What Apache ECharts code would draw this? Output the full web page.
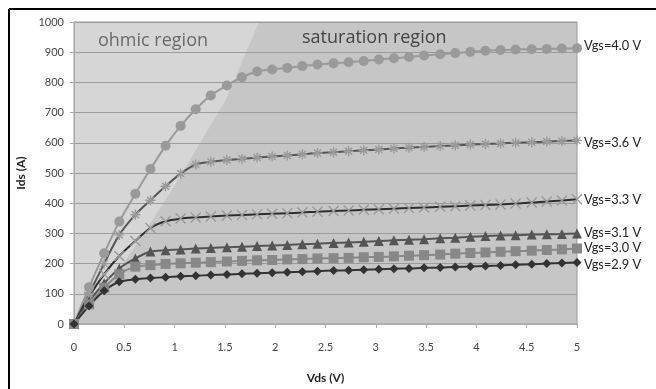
<!DOCTYPE html>
<html>
<head>
<meta charset="utf-8">
<script src="https://cdn.jsdelivr.net/npm/echarts@6/dist/echarts.min.js"></script>
<style>
  html, body { margin: 0; padding: 0; background: #fff; }
  #chart { width: 656px; height: 389px; }
</style>
</head>
<body>
<div id="chart"></div>
<script>
  // Vds sample points (V)
  var vds = [0, 0.15, 0.3, 0.45, 0.61, 0.76, 0.91, 1.06, 1.21, 1.36, 1.52, 1.67, 1.82, 1.97, 2.12, 2.27,
    2.42, 2.58, 2.73, 2.88, 3.03, 3.18, 3.33, 3.48, 3.64, 3.79, 3.94, 4.09, 4.24, 4.39, 4.55, 4.7, 4.85, 5];

  var ids40 = [0, 122, 234, 339, 431, 513, 590, 656, 711, 757, 790, 817, 836, 843, 848, 854,
    859, 863, 867, 871, 876, 880, 884, 889, 893, 897, 901, 905, 907, 909, 910, 911, 912, 913];
  var ids36 = [0, 100, 200, 295, 362, 410, 456, 498, 528, 537, 543, 547, 551, 555, 558, 562,
    566, 569, 572, 575, 578, 581, 584, 586, 589, 591, 594, 596, 598, 600, 602, 604, 606, 608];
  var ids33 = [0, 90, 165, 225, 275, 318, 340, 349, 353, 356, 359, 361, 363, 365, 367, 369,
    372, 374, 376, 378, 380, 382, 384, 386, 388, 390, 392, 394, 396, 399, 402, 406, 409, 413];
  var ids31 = [0, 75, 135, 184, 217, 240, 244, 247, 250, 252, 254, 256, 258, 260, 262, 264,
    266, 268, 270, 272, 275, 277, 279, 281, 284, 286, 289, 291, 293, 294, 296, 297, 298, 300];
  var ids30 = [0, 65, 120, 165, 190, 195, 199, 201, 203, 205, 207, 209, 211, 212, 214, 215,
    217, 218, 219, 221, 222, 224, 226, 228, 230, 233, 235, 237, 239, 241, 243, 245, 247, 250];
  var ids29 = [0, 60, 110, 140, 148, 152, 155, 158, 160, 162, 164, 166, 168, 170, 171, 173,
    175, 177, 178, 180, 181, 183, 184, 186, 187, 189, 190, 192, 194, 196, 198, 200, 202, 204];

  var seriesNames = ['Vgs=4.0 V', 'Vgs=3.6 V', 'Vgs=3.3 V', 'Vgs=3.1 V', 'Vgs=3.0 V', 'Vgs=2.9 V'];
  var xTicks = [0, 0.5, 1, 1.5, 2, 2.5, 3, 3.5, 4, 4.5, 5];

  // edge of the lighter "ohmic" band, in (Vds, Ids)
  var ohmicEdge = [[0, 0], [0.35, 130], [0.68, 293], [0.98, 447], [1.51, 743], [1.84, 1000], [0, 1000]];
  var plotBox = [[0, 0], [5, 0], [5, 1000], [0, 1000]];

  var asterisk = 'path://M0,5L10,5M5,0L5,10M1.5,1.5L8.5,8.5M8.5,1.5L1.5,8.5';
  var cross = 'path://M1,1L9,9M9,1L1,9';

  function pairs(ys) {
    return vds.map(function (x, i) { return [x, ys[i]] })
  }

  function polySeries(points, fill, z) {
    return {
      type: 'custom',
      silent: true,
      z: z,
      data: [0],
      renderItem: function (params, api) {
        return {
          type: 'polygon',
          shape: { points: points.map(function (p) { return api.coord(p) }) },
          style: { fill: fill }
        }
      }
    }
  }

  function curve(name, ys, line, symbol, size, mark, border) {
    return {
      name: name,
      type: 'line',
      z: 3,
      smooth: 0.3,
      data: pairs(ys),
      symbol: symbol,
      symbolSize: size,
      showAllSymbol: true,
      lineStyle: { color: line, width: 2 },
      itemStyle: border
        ? { color: 'none', borderColor: mark, borderWidth: 1.4 }
        : { color: mark, borderWidth: 0 }
    }
  }

  var chart = echarts.init(document.getElementById('chart'));
  var labelFont = 'Lato, "Open Sans", sans-serif';
  var regionFont = '"Open Sans", Lato, sans-serif';

  function vgsLabel(i, top) {
    return { type: 'text', left: 584, top: top, style: { text: seriesNames[i], fontSize: 12.8, fontFamily: labelFont, fill: '#222' } }
  }

  chart.setOption({
    backgroundColor: '#fff',
    animation: false,
    grid: { left: 74, right: 79, top: 22, bottom: 63, show: true, borderColor: '#9a9a9a', borderWidth: 1 },
    xAxis: {
      type: 'value', min: 0, max: 5, interval: 0.5,
      name: 'Vds (V)', nameLocation: 'middle', nameGap: 48,
      nameTextStyle: { fontFamily: labelFont, fontWeight: 'bold', fontSize: 12, color: '#222' },
      axisLine: { show: true, lineStyle: { color: '#aaa' } },
      axisTick: { show: true, length: 4, lineStyle: { color: '#aaa' } },
      axisLabel: {
        color: '#444', fontSize: 11, fontFamily: labelFont, margin: 18,
        formatter: function (v) { return xTicks.indexOf(v) >= 0 ? String(v) : '' }
      },
      splitLine: { show: false }
    },
    yAxis: {
      type: 'value', min: 0, max: 1000, interval: 100,
      name: 'Ids (A)', nameLocation: 'middle', nameGap: 46, nameRotate: 90,
      nameTextStyle: { fontFamily: labelFont, fontWeight: 'bold', fontSize: 12, color: '#222' },
      axisLine: { show: true, lineStyle: { color: '#aaa' } },
      axisTick: { show: true, length: 4, lineStyle: { color: '#aaa' } },
      axisLabel: {
        color: '#444', fontSize: 11, fontFamily: labelFont, margin: 10,
        formatter: function (v) { return String(v) }
      },
      splitLine: { show: true, lineStyle: { color: '#9c9c9c', width: 1 } }
    },
    graphic: [
      { type: 'line', shape: { x1: 9, y1: 9, x2: 656, y2: 9 }, style: { stroke: '#000', lineWidth: 2 } },
      { type: 'line', shape: { x1: 9, y1: 9, x2: 9, y2: 389 }, style: { stroke: '#000', lineWidth: 2 } },
      { type: 'text', left: 98, top: 32, style: { text: 'ohmic region', fontSize: 18, fontFamily: regionFont, fill: '#6a6a6a' } },
      { type: 'text', left: 302, top: 29, style: { text: 'saturation region', fontSize: 18, fontFamily: regionFont, fill: '#444' } },
      vgsLabel(0, 39),
      vgsLabel(1, 136),
      vgsLabel(2, 193),
      vgsLabel(3, 226),
      vgsLabel(4, 241),
      vgsLabel(5, 258)
    ],
    series: [
      polySeries(plotBox, '#c6c6c6', -2),
      polySeries(ohmicEdge, '#d6d6d6', -1),
      curve(seriesNames[0], ids40, '#9a9a9a', 'circle', 10, '#9a9a9a', false),
      curve(seriesNames[1], ids36, '#555', asterisk, 10, '#9a9a9a', true),
      curve(seriesNames[2], ids33, '#2e2e2e', cross, 10, '#9a9a9a', true),
      curve(seriesNames[3], ids31, '#555', 'triangle', 10, '#555', false),
      curve(seriesNames[4], ids30, '#888', 'rect', 10, '#888', false),
      curve(seriesNames[5], ids29, '#333', 'diamond', 9, '#333', false)
    ]
  });
</script>
</body>
</html>
